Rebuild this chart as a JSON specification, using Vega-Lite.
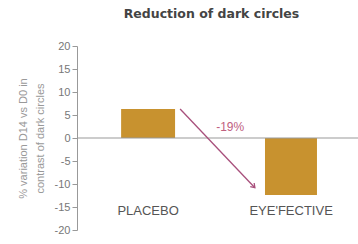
{
  "$schema": "https://vega.github.io/schema/vega-lite/v6.json",
  "width": 281,
  "height": 184,
  "autosize": {"type": "none"},
  "padding": {"left": 77, "top": 46, "right": 0, "bottom": 14},
  "background": "white",
  "config": {"view": {"stroke": null}, "font": "Liberation Sans"},
  "title": {"text": "Reduction of dark circles", "fontSize": 12.5, "fontWeight": "bold", "color": "#444444", "offset": 20, "dx": -6, "font": "DejaVu Sans"},
  "datasets": {
    "bars": [
      {"group": "PLACEBO", "x0": 1.57, "x1": 3.49, "xc": 2.53, "value": 6.3},
      {"group": "EYE'FECTIVE", "x0": 6.69, "x1": 8.54, "xc": 7.62, "value": -12.4}
    ],
    "arrow": [
      {"x": 3.67, "y": 6.3, "x2": 6.33, "y2": -10.8}
    ],
    "note": [
      {"x": 5.45, "y": 2.4, "label": "-19%"}
    ]
  },
  "layer": [
    {
      "data": {"name": "bars"},
      "mark": {"type": "bar", "color": "#c8922f"},
      "encoding": {
        "x": {"field": "x0", "type": "quantitative", "scale": {"domain": [0, 10]}, "axis": null},
        "x2": {"field": "x1"},
        "y": {"field": "value", "type": "quantitative", "scale": {"domain": [-20, 20], "nice": false},
          "axis": {
            "values": [-20, -15, -10, -5, 0, 5, 10, 15, 20],
            "tickCount": 9,
            "labelOverlap": false,
            "labelExpr": "datum.value < 0 ? '-' + abs(datum.value) : '' + datum.value",
            "title": ["% variation D14 vs D0 in", "contrast of dark circles"],
            "titleFontSize": 11, "titleFontWeight": "normal", "titleColor": "#999999", "titleLineHeight": 17, "titlePadding": 9,
            "labelFontSize": 11, "labelColor": "#777777", "labelPadding": 2,
            "tickSize": 5, "tickColor": "#999999", "domainColor": "#999999", "grid": false
          }
        },
        "y2": {"datum": 0}
      }
    },
    {
      "data": {"values": [{"z": 0}]},
      "mark": {"type": "rule", "color": "#999999", "strokeWidth": 1},
      "encoding": {"y": {"field": "z", "type": "quantitative"}}
    },
    {
      "data": {"name": "bars"},
      "mark": {"type": "text", "fontSize": 13, "color": "#555555"},
      "encoding": {
        "x": {"field": "xc", "type": "quantitative"},
        "y": {"datum": -15.8},
        "text": {"field": "group"}
      }
    },
    {
      "data": {"name": "arrow"},
      "mark": {"type": "rule", "color": "#a8507c", "strokeWidth": 1.3},
      "encoding": {
        "x": {"field": "x", "type": "quantitative"},
        "y": {"field": "y", "type": "quantitative"},
        "x2": {"field": "x2"},
        "y2": {"field": "y2"}
      }
    },
    {
      "data": {"name": "arrow"},
      "mark": {"type": "point", "shape": "M -0.7 -1 L 0 0 L 0.7 -1", "filled": false, "stroke": "#a8507c", "strokeWidth": 1.3, "size": 60, "angle": -43.5, "opacity": 1},
      "encoding": {
        "x": {"field": "x2", "type": "quantitative"},
        "y": {"field": "y2", "type": "quantitative"}
      }
    },
    {
      "data": {"name": "note"},
      "mark": {"type": "text", "fontSize": 12, "color": "#c0607f"},
      "encoding": {
        "x": {"field": "x", "type": "quantitative"},
        "y": {"field": "y", "type": "quantitative"},
        "text": {"field": "label"}
      }
    }
  ]
}
